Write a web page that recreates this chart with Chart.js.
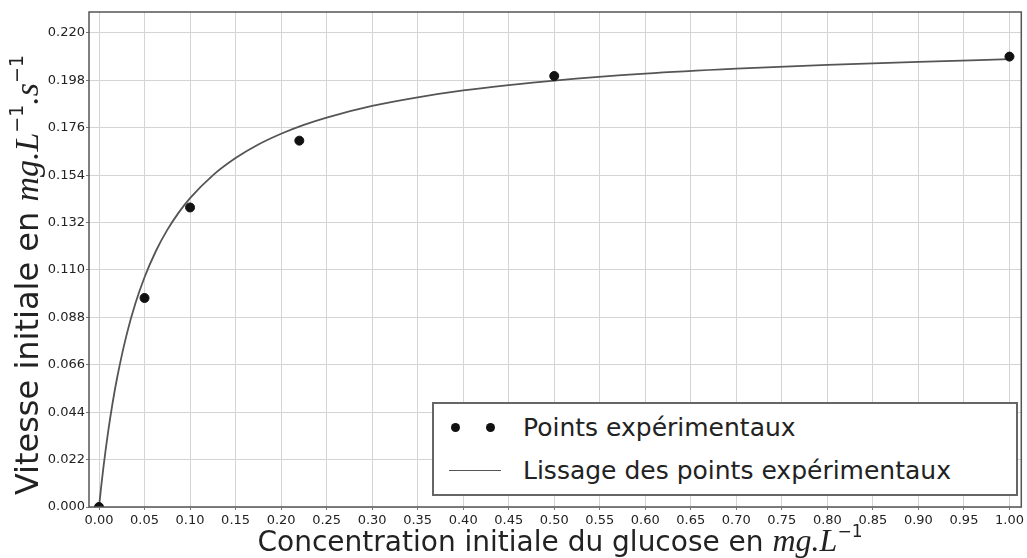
<!DOCTYPE html>
<html>
<head>
<meta charset="utf-8">
<script src="https://cdn.jsdelivr.net/npm/chart.js@4.4.1/dist/chart.umd.min.js"></script>
<style>
    body { margin: 0; background: #fff; }
    #wrap { position: relative; width: 1027px; height: 558px; }
    #legendBox {
        position: absolute; left: 432px; top: 402px; width: 586px; height: 94px;
        border: 2px solid #666; background: #fff;
        font-family: 'DejaVu Sans', sans-serif; font-size: 25px; color: #222;
        box-sizing: border-box;
    }
    .legRow { position: absolute; left: 0; height: 40px; display: flex; align-items: center; }
    .legMark { position: relative; width: 89px; height: 40px; }
    .dot { position: absolute; width: 9px; height: 9px; border-radius: 50%; background: #111; top: 16px; }
    .line { position: absolute; left: 15px; width: 52px; top: 20px; border-top: 1.8px solid #555; }
</style>
</head>
<body>
<div id="wrap">
    <canvas id="chart" width="1027" height="558"></canvas>
    <div id="legendBox"></div>
</div>
<script>
// données
const xTicks = [0.00, 0.05, 0.10, 0.15, 0.20, 0.25, 0.30, 0.35, 0.40, 0.45, 0.50,
                0.55, 0.60, 0.65, 0.70, 0.75, 0.80, 0.85, 0.90, 0.95, 1.00];
const yTicks = [0.000, 0.022, 0.044, 0.066, 0.088, 0.110, 0.132, 0.154, 0.176, 0.198, 0.220];

const pointX = [0.00, 0.05, 0.10, 0.22, 0.50, 1.00];
const pointY = [0.000, 0.097, 0.139, 0.170, 0.200, 0.209];

// courbe de lissage (relevée point par point sur la figure)
const fitX = [0.000, 0.0025, 0.005, 0.010, 0.015, 0.020, 0.030, 0.040, 0.050, 0.0625,
              0.075, 0.0875, 0.100, 0.125, 0.150, 0.175, 0.200, 0.225, 0.250, 0.300,
              0.350, 0.400, 0.450, 0.500, 0.600, 0.700, 0.800, 0.900, 1.000];
const fitY = [0.0000, 0.0099, 0.0190, 0.0349, 0.0485, 0.0602, 0.0794, 0.0945, 0.1066, 0.1188,
              0.1286, 0.1366, 0.1433, 0.1539, 0.1619, 0.1682, 0.1732, 0.1773, 0.1807, 0.1861,
              0.1901, 0.1933, 0.1958, 0.1979, 0.2011, 0.2034, 0.2052, 0.2066, 0.2078];

const labelPoints = 'Points expérimentaux';
const labelFit = 'Lissage des points expérimentaux';

const xMin = -0.011, xMax = 1.013;
const yMin = 0, yMax = 0.2297;

const textColor = '#222';
const gridColor = '#d4d4d4';

// cadre complet autour de la zone de tracé
const framePlugin = {
    id: 'frame',
    afterDraw(chart) {
        const { ctx, chartArea: a } = chart;
        ctx.save();
        ctx.strokeStyle = '#555';
        ctx.lineWidth = 1.5;
        ctx.strokeRect(a.left, a.top, a.right - a.left, a.bottom - a.top);
        ctx.restore();
    }
};

function drawParts(ctx, parts) {
    let total = 0;
    parts.forEach(p => { ctx.font = p.font; p.w = ctx.measureText(p.text).width; total += p.w; });
    let x = -total / 2;
    parts.forEach(p => {
        ctx.font = p.font;
        ctx.fillText(p.text, x, p.dy || 0);
        x += p.w;
    });
}

// titres des axes avec notation mathématique
const titlePlugin = {
    id: 'axisTitles',
    afterDraw(chart) {
        const ctx = chart.ctx;
        ctx.save();
        ctx.fillStyle = textColor;
        ctx.textBaseline = 'alphabetic';

        ctx.save();
        ctx.translate(560, 551);
        drawParts(ctx, [
            { text: 'Concentration initiale du glucose en ', font: "28px 'DejaVu Sans'" },
            { text: 'mg.L', font: "italic 32px 'Liberation Serif'" },
            { text: '\u22121', font: "17px 'DejaVu Sans'", dy: -14 }
        ]);
        ctx.restore();

        ctx.save();
        ctx.translate(38, 275);
        ctx.rotate(-Math.PI / 2);
        drawParts(ctx, [
            { text: 'Vitesse initiale en ', font: "32px 'DejaVu Sans'" },
            { text: 'mg.L', font: "italic 34px 'Liberation Serif'" },
            { text: '\u22121', font: "19px 'DejaVu Sans'", dy: -15 },
            { text: '.s', font: "italic 34px 'Liberation Serif'" },
            { text: '\u22121', font: "19px 'DejaVu Sans'", dy: -15 }
        ]);
        ctx.restore();

        ctx.restore();
    }
};

const chart = new Chart(document.getElementById('chart'), {
    type: 'scatter',
    data: {
        datasets: [
            {
                label: labelPoints,
                data: pointX.map((x, i) => ({ x: x, y: pointY[i] })),
                backgroundColor: '#111',
                borderColor: '#111',
                pointRadius: 4.5,
                showLine: false,
                order: 0
            },
            {
                label: labelFit,
                data: fitX.map((x, i) => ({ x: x, y: fitY[i] })),
                borderColor: '#555',
                borderWidth: 1.8,
                pointRadius: 0,
                showLine: true,
                cubicInterpolationMode: 'monotone',
                order: 1
            }
        ]
    },
    options: {
        responsive: false,
        animation: false,
        layout: { padding: { top: 12, right: 4, left: 0, bottom: 0 } },
        plugins: {
            legend: { display: false },
            tooltip: { enabled: false }
        },
        scales: {
            x: {
                type: 'linear',
                min: xMin,
                max: xMax,
                afterBuildTicks: scale => { scale.ticks = xTicks.map(v => ({ value: v })); },
                afterFit: scale => { scale.height = 51; },
                ticks: {
                    color: textColor,
                    font: { family: 'DejaVu Sans', size: 13 },
                    padding: 3,
                    maxRotation: 0,
                    autoSkip: false,
                    callback: v => v.toFixed(2)
                },
                grid: { color: gridColor, tickLength: 3, tickColor: '#777' },
                border: { display: false }
            },
            y: {
                type: 'linear',
                min: yMin,
                max: yMax,
                afterBuildTicks: scale => { scale.ticks = yTicks.map(v => ({ value: v })); },
                afterFit: scale => { scale.width = 89; },
                ticks: {
                    color: textColor,
                    font: { family: 'DejaVu Sans', size: 13 },
                    padding: 1,
                    autoSkip: false,
                    callback: v => v.toFixed(3)
                },
                grid: { color: gridColor, tickLength: 3, tickColor: '#777' },
                border: { display: false }
            }
        }
    },
    plugins: [framePlugin, titlePlugin]
});

// légende dans le coin inférieur droit, construite à partir des jeux de données
function buildLegend() {
    const box = document.getElementById('legendBox');
    box.innerHTML = '';
    chart.data.datasets.forEach((ds, i) => {
        const row = document.createElement('div');
        row.className = 'legRow';
        row.style.top = (i === 0 ? 3 : 46) + 'px';
        const mark = document.createElement('div');
        mark.className = 'legMark';
        if (ds.showLine) {
            const l = document.createElement('div');
            l.className = 'line';
            mark.appendChild(l);
        } else {
            [17, 52].forEach(left => {
                const d = document.createElement('div');
                d.className = 'dot';
                d.style.left = left + 'px';
                mark.appendChild(d);
            });
        }
        const txt = document.createElement('span');
        txt.textContent = ds.label;
        row.appendChild(mark);
        row.appendChild(txt);
        box.appendChild(row);
    });
}
buildLegend();
</script>
</body>
</html>
